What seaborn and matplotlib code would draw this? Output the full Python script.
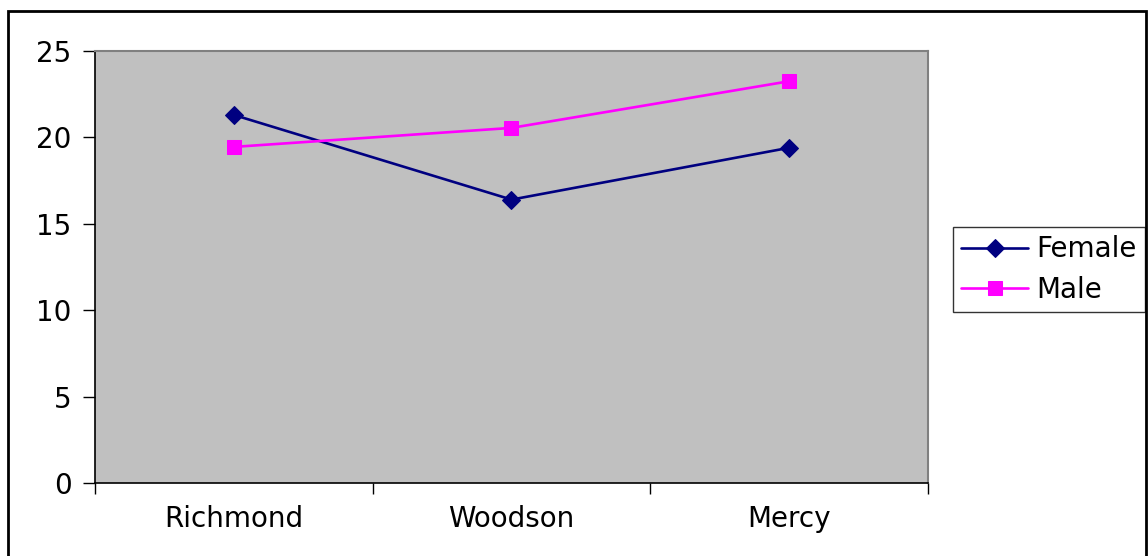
import matplotlib
matplotlib.use("Agg")
import matplotlib.pyplot as plt
import matplotlib.patches as mpatches
import pandas as pd
import seaborn as sns

# Hospital categories and average values per group
sites = ["Richmond", "Woodson", "Mercy"]
female = [21.3, 16.4, 19.4]
male = [19.45, 20.55, 23.25]
y_ticks = [0, 5, 10, 15, 20, 25]

sns.set_theme(style="white")
plt.rcParams["font.family"] = ["DejaVu Sans"]
plt.rcParams["text.color"] = "black"
plt.rcParams["xtick.color"] = "black"
plt.rcParams["ytick.color"] = "black"

df = pd.DataFrame({
    "site": sites * 2,
    "value": female + male,
    "group": ["Female"] * 3 + ["Male"] * 3,
})

fig = plt.figure(figsize=(11.48, 5.56), dpi=100)
ax = fig.add_axes([95 / 1148, 73 / 556, 833 / 1148, 432 / 556])
ax.set_facecolor("#C0C0C0")

styles = {
    "Female": dict(color="#000080", marker="D", markersize=9),
    "Male": dict(color="#FF00FF", marker="s", markersize=9.5),
}
for grp, st in styles.items():
    sub = df[df["group"] == grp]
    sns.lineplot(data=sub, x="site", y="value", ax=ax, label=grp,
                 color=st["color"], marker=st["marker"], markersize=st["markersize"],
                 markeredgecolor=st["color"], linewidth=1.9, sort=False)

ax.set_xlim(-0.5, 2.5)
ax.set_ylim(0, 25)
ax.set_xlabel("")
ax.set_ylabel("")

# category labels centred, ticks at category boundaries
ax.set_xticks([0, 1, 2])
ax.set_xticklabels(sites, fontsize=20, color="black")
ax.set_xticks([-0.5, 0.5, 1.5, 2.5], minor=True)
ax.tick_params(axis="x", which="major", length=0, pad=16)
ax.tick_params(axis="x", which="minor", length=8, width=1, color="black", direction="out", bottom=True)

ax.set_yticks(y_ticks)
ax.set_yticklabels([str(t) for t in y_ticks], fontsize=20, color="black")
ax.tick_params(axis="y", which="major", length=9, width=1, color="black", direction="out", left=True, pad=8)

for side in ["left", "bottom"]:
    ax.spines[side].set_color("black")
    ax.spines[side].set_linewidth(1.2)
for side in ["top", "right"]:
    ax.spines[side].set_color("#808080")
    ax.spines[side].set_linewidth(1.5)

leg = ax.legend(loc="upper left", bbox_to_anchor=(953 / 1148, 1 - 227 / 556),
                bbox_transform=fig.transFigure, borderaxespad=0, frameon=True,
                fancybox=False, edgecolor="black", fontsize=20, handlelength=2.4,
                handletextpad=0.3, borderpad=0.3, labelspacing=0.45)
leg.get_frame().set_linewidth(1.0)
leg.get_frame().set_facecolor("white")
for t in leg.get_texts():
    t.set_color("black")

# outer chart border
fig.patches.append(mpatches.Rectangle((8 / 1148, -0.01), 1138 / 1148, 1 - 11 / 556 + 0.01,
                                      transform=fig.transFigure, fill=False,
                                      edgecolor="black", linewidth=2))

fig.savefig("out.png", dpi=100)
